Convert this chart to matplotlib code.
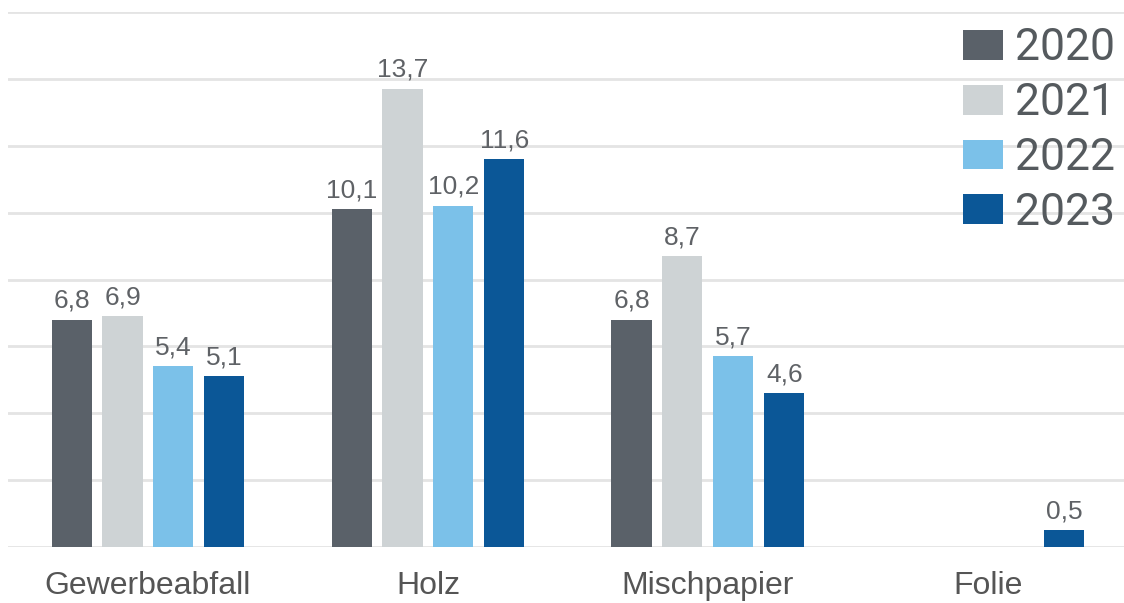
import numpy as np
import matplotlib.pyplot as plt

categories = ["Gewerbeabfall", "Holz", "Mischpapier", "Folie"]
years = ["2020", "2021", "2022", "2023"]
v2020 = [6.8, 10.1, 6.8, np.nan]
v2021 = [6.9, 13.7, 8.7, np.nan]
v2022 = [5.4, 10.2, 5.7, np.nan]
v2023 = [5.1, 11.6, 4.6, 0.5]
colors = ["#5a6169", "#ced3d5", "#7bc1e9", "#0b5797"]

series = [v2020, v2021, v2022, v2023]

fig = plt.figure(figsize=(11.24, 6.03), dpi=100)
ax = fig.add_axes([8 / 1124, 56 / 603, 1116 / 1124, 535 / 603])

x = np.arange(len(categories))
pitch = 0.182
width = 0.143
for i, vals in enumerate(series):
    xs = x + (i - 1.5) * pitch
    ax.bar(xs, vals, width, color=colors[i], label=years[i], zorder=3)
    for xi, v in zip(xs, vals):
        if np.isnan(v):
            continue
        ax.annotate(f"{v:.1f}".replace(".", ","), (xi, v), xytext=(0, 5),
                    textcoords="offset points", ha="center", va="bottom",
                    fontsize=19, color="#5f6266", family="Liberation Sans",
                    annotation_clip=False)

ax.set_xlim(-0.5, 3.486)
ax.set_ylim(0, 16)
ax.set_yticks(np.arange(0, 17, 2))
ax.yaxis.grid(True, color="#e4e4e4", linewidth=2, zorder=0)
ax.tick_params(left=False, labelleft=False, bottom=False)
ax.set_xticks(x)
ax.set_xticklabels(categories, fontsize=23, color="#555555", family="Liberation Sans")
ax.tick_params(axis="x", pad=14)
for s in ax.spines.values():
    s.set_visible(False)

leg = ax.legend(loc="upper right", bbox_to_anchor=(1.0, 0.988), frameon=False,
                prop={"family": "Roboto", "size": 32},
                handlelength=0.88, handleheight=0.66, handletextpad=0.28,
                labelspacing=0.29, borderaxespad=0.0, borderpad=0.2)
for t in leg.get_texts():
    t.set_color("#555a5e")

fig.savefig("out.png", dpi=100)
